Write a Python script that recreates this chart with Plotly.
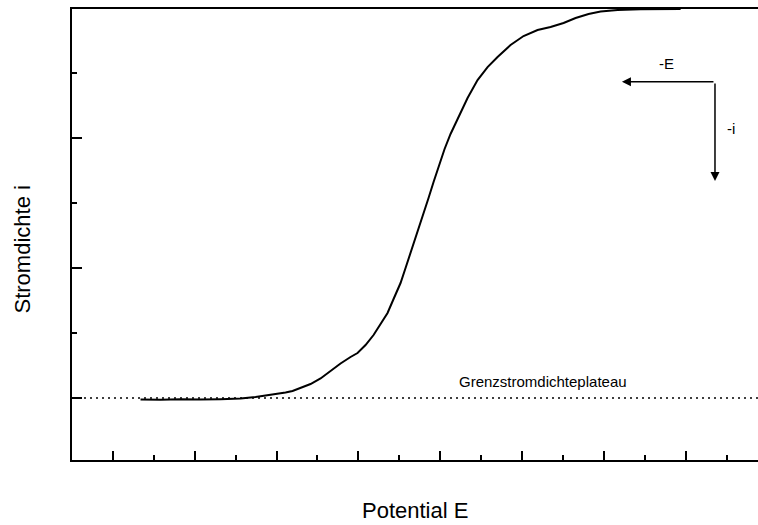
import plotly.graph_objects as go

# Polarisation curve (Potential E vs Stromdichte i), arbitrary units
potential = [1.675, 2.164, 2.653, 3.142, 3.631, 4.120, 4.487, 4.853, 5.220, 5.391,
             5.587, 5.831, 6.076, 6.320, 6.565, 6.809, 6.980, 7.176, 7.372, 7.543,
             7.714, 7.861, 8.032, 8.154, 8.276, 8.423, 8.570, 8.716, 8.839, 8.961,
             9.108, 9.254, 9.450, 9.670, 9.914, 10.159, 10.403, 10.721, 11.039, 11.381,
             11.699, 12.017, 12.311, 12.628, 12.922, 13.337, 13.900, 14.878]
stromdichte = [-0.023, -0.028, -0.020, -0.025, -0.018, -0.008, 0.015, 0.046, 0.085, 0.108,
               0.154, 0.215, 0.300, 0.415, 0.531, 0.631, 0.692, 0.815, 0.969, 1.138,
               1.308, 1.523, 1.769, 2.000, 2.231, 2.492, 2.785, 3.077, 3.323, 3.569,
               3.831, 4.062, 4.323, 4.615, 4.892, 5.092, 5.246, 5.431, 5.569, 5.662,
               5.708, 5.769, 5.846, 5.908, 5.946, 5.969, 5.982, 5.985]
plateau_level = 0.0

x_range = [0, 16.77]
y_range = [-0.954, 5.985]

font_family = "Liberation Sans, Arial, sans-serif"

fig = go.Figure()
fig.add_trace(go.Scatter(x=potential, y=stromdichte, mode="lines",
                         line=dict(color="black", width=2), showlegend=False,
                         hoverinfo="skip"))

fig.add_shape(type="line", xref="paper", x0=0, x1=1, yref="y",
              y0=plateau_level, y1=plateau_level,
              line=dict(color="black", width=1.5, dash="2px,4px"))

annotations = [
    dict(text="Potential E", xref="paper", yref="paper", x=0.5, y=0,
         xanchor="center", yanchor="top", yshift=-36, showarrow=False,
         font=dict(size=22, color="black", family=font_family)),
    dict(text="Stromdichte i", xref="paper", yref="paper", x=0, y=0.4656,
         xanchor="right", yanchor="middle", xshift=-35, textangle=-90,
         showarrow=False, font=dict(size=22, color="black", family=font_family)),
    dict(text="Grenzstromdichteplateau", xref="paper", yref="paper", x=0.561, y=0.175,
         xanchor="left", yanchor="middle", showarrow=False,
         font=dict(size=15, color="black", family=font_family)),
    dict(text="-E", xref="paper", yref="paper", x=0.867, y=0.880,
         xanchor="center", yanchor="middle", showarrow=False,
         font=dict(size=15, color="black", family=font_family)),
    dict(text="-i", xref="paper", yref="paper", x=0.961, y=0.736,
         xanchor="center", yanchor="middle", showarrow=False,
         font=dict(size=15, color="black", family=font_family)),
    dict(text="", xref="paper", yref="paper", x=0.8017, y=0.8388,
         axref="pixel", ayref="pixel", ax=93, ay=0, showarrow=True,
         arrowhead=2, arrowsize=1.2, arrowwidth=1.5, arrowcolor="black", standoff=0),
    dict(text="", xref="paper", yref="paper", x=0.9373, y=0.6186,
         axref="pixel", ayref="pixel", ax=0, ay=-99, showarrow=True,
         arrowhead=2, arrowsize=1.2, arrowwidth=1.5, arrowcolor="black", standoff=0),
]

fig.update_layout(
    width=758, height=525,
    margin=dict(l=72, r=0, t=9, b=65),
    plot_bgcolor="white", paper_bgcolor="white",
    font=dict(family=font_family, color="black"),
    annotations=annotations,
    xaxis=dict(range=x_range, showgrid=False, zeroline=False,
               showline=True, linecolor="black", linewidth=2, mirror=True,
               ticks="inside", ticklen=9, tickwidth=1.5, tickcolor="black",
               tick0=1, dtick=2, showticklabels=False,
               minor=dict(ticks="inside", ticklen=5, tickwidth=1.5, tickcolor="black",
                          tick0=0, dtick=1, showgrid=False)),
    yaxis=dict(range=y_range, showgrid=False, zeroline=False,
               showline=True, linecolor="black", linewidth=2,
               ticks="inside", ticklen=10, tickwidth=1.5, tickcolor="black",
               tick0=0, dtick=2, showticklabels=False,
               minor=dict(ticks="inside", ticklen=5, tickwidth=1.5, tickcolor="black",
                          tick0=1, dtick=1, showgrid=False)),
)

fig.write_html("out.html")
